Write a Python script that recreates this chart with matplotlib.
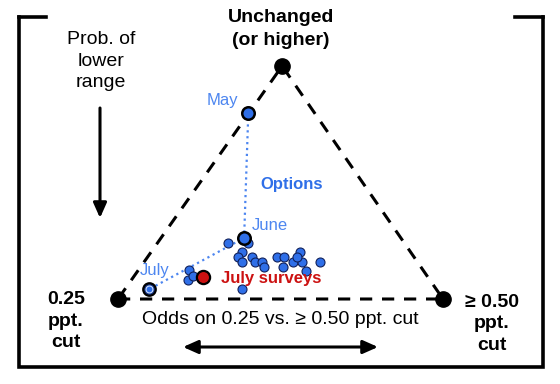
import matplotlib.pyplot as plt
from matplotlib.lines import Line2D

plt.rcParams["font.family"] = ["Liberation Sans", "DejaVu Sans"]

# position along the base (0 = 0.25 ppt cut, 1 = >=0.50 ppt cut), prob. of unchanged
corner_x = [0.0, 1.0, 0.505]
corner_y = [0.0, 0.0, 1.0]

path_labels = ["May", "June", "July"]
path_x = [0.401, 0.388, 0.096]
path_y = [0.800, 0.262, 0.042]

survey_x = [0.399, 0.339, 0.381, 0.370, 0.381, 0.411, 0.422, 0.442, 0.449, 0.488,
            0.511, 0.509, 0.539, 0.560, 0.565, 0.550, 0.580, 0.622, 0.381, 0.219,
            0.216, 0.232]
survey_y = [0.239, 0.242, 0.200, 0.182, 0.160, 0.179, 0.160, 0.160, 0.139, 0.182,
            0.182, 0.139, 0.160, 0.200, 0.160, 0.179, 0.121, 0.160, 0.042, 0.124,
            0.082, 0.099]

july_avg_x = [0.261]
july_avg_y = [0.093]

W, H = 560, 384
blue = "#2f6fe8"
lblue = "#4d86f0"
red = "#cc1111"


def ff(px, py):
    # layout helper: pixel position -> figure fraction
    return px / W, 1 - py / H


fig = plt.figure(figsize=(W / 100, H / 100), dpi=100)
ax = fig.add_axes([0, 0, 1, 1])
ax.set_xlim(-118 / 325, (W - 118) / 325)
ax.set_ylim((299 - H) / 233, 299 / 233)
ax.axis("off")

# frame (open at the top)
for xs, ys in [([19, 19, 543, 543], [17, 367, 367, 17]), ([19, 46], [17, 17]), ([515, 543], [17, 17])]:
    fig.add_artist(Line2D([x / W for x in xs], [1 - y / H for y in ys], color="black", lw=2.6,
                          solid_capstyle="projecting", solid_joinstyle="miter"))

# triangle
tx = corner_x + [corner_x[0]]
ty = corner_y + [corner_y[0]]
ax.plot(tx, ty, color="black", lw=2.2, dashes=(4, 3.2), zorder=1)
ax.plot(corner_x, corner_y, "o", color="black", ms=11, zorder=3)

# path May -> June -> July
ax.plot(path_x, path_y, ":", color=lblue, lw=1.6, zorder=2)
ax.scatter(survey_x, survey_y, s=42, color=blue, edgecolor="#10205a", lw=0.8, zorder=4)
ax.plot(path_x[:2], path_y[:2], "o", ms=9, color=blue, mec="black", mew=1.8, zorder=5)
ax.plot(path_x[2], path_y[2], "o", ms=9, color="#1a3a8a", mec="black", mew=1.6, zorder=5)
ax.plot(path_x[2], path_y[2], "o", ms=5, color=blue, mec="#cfe0ff", mew=0.8, zorder=6)
ax.plot(july_avg_x, july_avg_y, "o", ms=9.5, color=red, mec="black", mew=1.6, zorder=6)

label_pos = [(222, 100), (270, 225), (155, 270)]
for lab, (px, py) in zip(path_labels, label_pos):
    fig.text(*ff(px, py), lab, color=lblue, fontsize=12, ha="center", va="center")

fig.text(*ff(292, 184), "Options", color=blue, fontsize=12, fontweight="bold", ha="center", va="center")
fig.text(*ff(221, 279), "July surveys", color=red, fontsize=12, fontweight="bold", ha="left", va="center")

fig.text(*ff(281, 29), "Unchanged\n(or higher)", fontsize=14, fontweight="bold", ha="center", va="center",
         linespacing=1.4)
fig.text(*ff(101, 61), "Prob. of\nlower\nrange", fontsize=14, ha="center", va="center", linespacing=1.38)
fig.text(*ff(66, 321), "0.25\nppt.\ncut", fontsize=14, fontweight="bold", ha="center", va="center",
         linespacing=1.36)
fig.text(*ff(492, 324), "≥ 0.50\nppt.\ncut", fontsize=14, fontweight="bold", ha="center", va="center",
         linespacing=1.38)
fig.text(*ff(280, 320), "Odds on 0.25 vs. ≥ 0.50 ppt. cut", fontsize=14, ha="center", va="center")

# arrows
ax.annotate("", xy=ff(100, 218), xytext=ff(100, 108), xycoords="figure fraction",
            textcoords="figure fraction",
            arrowprops=dict(arrowstyle="-|>,head_length=0.9,head_width=0.4", color="black", lw=2.2,
                            shrinkA=0, shrinkB=0))
ax.annotate("", xy=ff(378, 347), xytext=ff(183, 347), xycoords="figure fraction",
            textcoords="figure fraction",
            arrowprops=dict(arrowstyle="<|-|>,head_length=0.9,head_width=0.4", color="black", lw=2.2,
                            shrinkA=0, shrinkB=0))

fig.savefig("out.png", dpi=100)
